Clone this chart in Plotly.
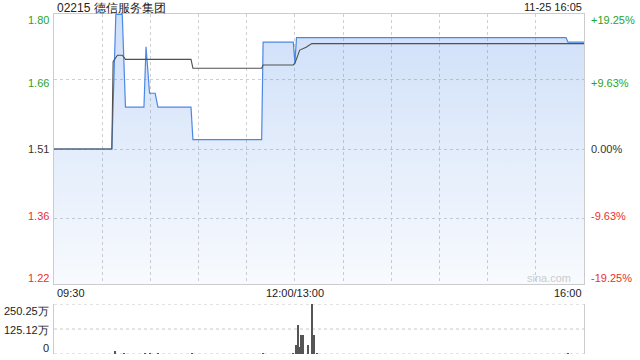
import plotly.graph_objects as go

# ---------------- data ----------------
title_text = "02215 德信服务集团"
stamp_text = "11-25 16:05"
prev_close = 1.51
y_lo, y_hi = 1.2193, 1.8007

price_t = [0, 36, 38.5, 42.5, 44.5, 56, 57.3, 59.5, 63, 64.7, 85.3, 86.5, 129.3, 130.2,
           149, 150, 151, 318.8, 320, 330]
price_v = [1.51, 1.51, 1.80, 1.80, 1.60, 1.60, 1.73, 1.63, 1.63, 1.60, 1.60, 1.53, 1.53, 1.74,
           1.74, 1.695, 1.75, 1.75, 1.74, 1.74]

avg_t = [0, 36, 36.8, 39.5, 42.5, 44.5, 85.3, 86.5, 129.3, 130.2, 149, 150, 153, 157, 160.5, 330]
avg_v = [1.51, 1.51, 1.698, 1.712, 1.712, 1.703, 1.703, 1.684, 1.684, 1.691, 1.691, 1.695,
         1.723, 1.729, 1.737, 1.737]

vol_t = [38, 44, 57, 60, 65, 86, 130, 149, 151, 152, 153, 154, 155, 158, 161, 162, 164, 320]
vol_v = [14, 2, 3, 2, 2, 2, 3, 2, 45, 145, 35, 95, 95, 45, 248, 95, 2, 3]  # 万

left_labels = ["1.80", "1.66", "1.51", "1.36", "1.22"]
right_labels = ["+19.25%", "+9.63%", "0.00%", "-9.63%", "-19.25%"]
tick_colors = ["#28a428", "#28a428", "#333333", "#e83030", "#e83030"]

vol_ticks = [250.25, 125.12, 0]
vol_labels = ["250.25万", "125.12万", "0"]

x_tick_text = ["09:30", "12:00/13:00", "16:00"]
grid_x = [30, 60, 90, 120, 150, 180, 210, 240, 270, 300]

# ---------------- figure ----------------
FONT = "Liberation Sans, Arial, sans-serif"
fig = go.Figure()

fig.add_trace(go.Scatter(
    x=price_t, y=price_v, mode="lines", fill="tozeroy",
    line=dict(color="#4a88e6", width=1.2),
    fillgradient=dict(type="vertical",
                      colorscale=[[0, "rgba(74,136,230,0.04)"], [1, "rgba(74,136,230,0.27)"]],
                      start=y_lo, stop=y_hi),
    xaxis="x", yaxis="y", hoverinfo="skip", showlegend=False))

fig.add_trace(go.Scatter(
    x=avg_t, y=avg_v, mode="lines",
    line=dict(color="#505050", width=1.1),
    xaxis="x", yaxis="y", hoverinfo="skip", showlegend=False))

fig.add_trace(go.Bar(
    x=vol_t, y=vol_v, width=0.9, marker=dict(color="#555555", line=dict(width=0)),
    xaxis="x2", yaxis="y2", hoverinfo="skip", showlegend=False))

main_bottom = (354 - 284) / 340
vol_top = 50 / 340

fig.update_layout(
    width=640, height=360,
    margin=dict(l=54, r=56, t=14, b=6),
    paper_bgcolor="white", plot_bgcolor="rgba(0,0,0,0)",
    font=dict(family=FONT, size=11, color="#333"),
    bargap=0,
    xaxis=dict(domain=[0, 1], range=[0, 330], tickvals=grid_x, showticklabels=False,
               showgrid=True, gridcolor="#cfcfcf", griddash="dot", gridwidth=1,
               zeroline=False, showline=True, linecolor="#cccccc", mirror=True, ticks=""),
    yaxis=dict(domain=[main_bottom, 1], range=[y_lo, y_hi], tickvals=[1.66, 1.51, 1.36],
               showticklabels=False, showgrid=True, gridcolor="#cfcfcf", griddash="dot",
               zeroline=False, showline=True, linecolor="#cccccc", mirror=True, ticks=""),
    xaxis2=dict(domain=[0, 1], range=[0, 330], anchor="y2", showticklabels=False,
                showgrid=False, zeroline=False, showline=False, ticks=""),
    yaxis2=dict(domain=[0, vol_top], range=[0, 250.25], anchor="x2", showticklabels=False,
                showgrid=False, zeroline=False, showline=True, linecolor="#cccccc",
                mirror=True, ticks=""),
)

for v in vol_ticks:
    fig.add_shape(type="line", xref="x2 domain", yref="y2", x0=0, x1=1, y0=v, y1=v,
                  line=dict(color="#c8c8c8", width=1, dash="dot"), layer="below")


def px_to_paper_x(px):
    return (px - 54) / 530


def px_to_paper_y(py):
    return (354 - py) / 340


annotations = []
annotations.append(dict(text=title_text, x=px_to_paper_x(55), y=px_to_paper_y(8),
                        xanchor="left", yanchor="middle", font=dict(size=12, color="#222")))
annotations.append(dict(text=stamp_text, x=px_to_paper_x(584), y=px_to_paper_y(7),
                        xanchor="right", yanchor="middle", font=dict(size=11, color="#222")))

label_y_px = [20, 83, 149, 216, 278]
for lab, rl, c, ypx in zip(left_labels, right_labels, tick_colors, label_y_px):
    annotations.append(dict(text=lab, x=px_to_paper_x(51), y=px_to_paper_y(ypx),
                            xanchor="right", yanchor="middle", font=dict(size=11, color=c)))
    annotations.append(dict(text=rl, x=px_to_paper_x(589), y=px_to_paper_y(ypx),
                            xanchor="left", yanchor="middle", font=dict(size=11, color=c)))

xlab_px = [55, 295, 584]
xanch = ["left", "center", "right"]
for t, xp, xa in zip(x_tick_text, xlab_px, xanch):
    annotations.append(dict(text=t, x=px_to_paper_x(xp), y=px_to_paper_y(293),
                            xanchor=xa, yanchor="middle", font=dict(size=11, color="#222")))

vol_label_px = [311, 330, 348]
for t, ypx in zip(vol_labels, vol_label_px):
    annotations.append(dict(text=t, x=px_to_paper_x(51), y=px_to_paper_y(ypx),
                            xanchor="right", yanchor="middle", font=dict(size=11, color="#222")))

annotations.append(dict(text="sina.com", x=px_to_paper_x(573), y=px_to_paper_y(278),
                        xanchor="right", yanchor="middle", font=dict(size=11, color="#cccccc")))

for a in annotations:
    a.update(xref="paper", yref="paper", showarrow=False)
fig.update_layout(annotations=annotations)

fig.write_html("out.html")
